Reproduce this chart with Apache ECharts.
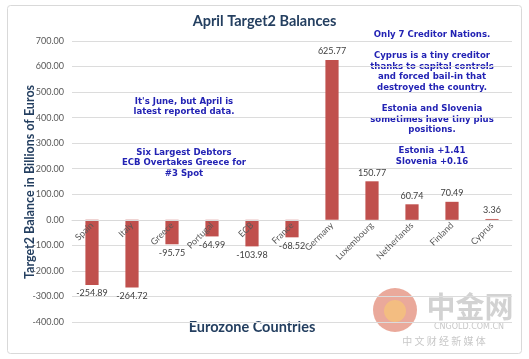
<!DOCTYPE html>
<html><head><meta charset="utf-8">
<script src="https://cdn.jsdelivr.net/npm/echarts@6/dist/echarts.min.js"></script>
<style>html,body{margin:0;padding:0;background:#fff}#c{width:529px;height:359px}</style>
</head><body><div id="c"></div>
<script>
const categories = ['Spain','Italy','Greece','Portugal','ECB','France','Germany','Luxembourg','Netherlands','Finland','Cyprus'];
const balances = [-254.89,-264.72,-95.75,-64.99,-103.98,-68.52,625.77,150.77,60.74,70.49,3.36];
const leftNotes = ["It's June, but April is\nlatest reported data.", "Six Largest Debtors\nECB Overtakes Greece for\n#3 Spot"];
const rightNote = "Only 7 Creditor Nations.\n\nCyprus is a tiny creditor\nthanks to capital controls\nand forced bail-in that\ndestroyed the country.\n\nEstonia and Slovenia\nsometimes have tiny plus\npositions.\n\nEstonia +1.41\nSlovenia +0.16";

const chart = echarts.init(document.getElementById('c'), null, {renderer:'canvas'});
const noteFont = {fontFamily:'"DejaVu Sans Condensed","DejaVu Sans",sans-serif', fontWeight:'bold', fontSize:9.5, fill:'#2323B4', lineHeight:10.6, align:'center'};
const uiFont = 'Lato, "Open Sans", sans-serif';
const gridTop = 41, gridBottom = 37, plotH = 359 - gridTop - gridBottom;
const yMin = -400, yMax = 700;
const zeroOffset = -plotH * (0 - yMin) / (yMax - yMin);
chart.setOption({
  animation:false,
  backgroundColor:'#fff',
  title:{text:'April Target2 Balances', left:'center', top:9,
    textStyle:{fontFamily:uiFont, fontWeight:'bold', fontSize:14.5, color:'#243F60'}},
  grid:{left:72, right:17, top:gridTop, bottom:gridBottom, containLabel:false, outerBoundsMode:'none'},
  xAxis:{type:'category', data:categories, position:'bottom', offset:zeroOffset, z:10,
    axisLine:{onZero:false, lineStyle:{color:'#D9D9D9'}}, axisTick:{show:false},
    axisLabel:{rotate:45, interval:0, margin:4, fontSize:9, color:'#595959', fontFamily:uiFont}},
  yAxis:{type:'value', min:yMin, max:yMax, interval:100,
    axisLine:{show:false}, axisTick:{show:false},
    axisLabel:{formatter:v=>v.toFixed(2), fontSize:9, color:'#595959', margin:8, fontFamily:uiFont},
    splitLine:{lineStyle:{color:'#DCDCDC'}}},
  series:[{type:'bar', data:balances.map(v=>({value:v, label:{position: v<0?'bottom':'top'}})),
    barWidth:'33%', itemStyle:{color:'#C0504D'}, z:1,
    label:{show:true, distance:4, formatter:p=>p.value.toFixed(2), fontSize:9, color:'#404040', fontFamily:uiFont}
  }],
  graphic:[
    {type:'rect', shape:{x:7.5,y:5.5,width:514,height:348,r:3}, style:{fill:'none', stroke:'#D9D9D9', lineWidth:1}, z:-10},
    {type:'text', x:252, y:327, style:{text:'Eurozone Countries', fontFamily:uiFont, fontWeight:'bold', fontSize:14.5, fill:'#243F60', align:'center', verticalAlign:'middle'}},
    {type:'text', x:30, y:182, rotation:Math.PI/2, style:{text:'Target2 Balance in Billions of Euros', fontFamily:uiFont, fontWeight:'bold', fontSize:12.5, fill:'#243F60', align:'center', verticalAlign:'middle'}},
    {type:'text', x:184, y:96, style:Object.assign({text:leftNotes[0]}, noteFont)},
    {type:'text', x:184, y:147, style:Object.assign({text:leftNotes[1]}, noteFont)},
    {type:'text', x:432, y:29, style:Object.assign({text:rightNote}, noteFont)},
    {type:'circle', shape:{cx:395, cy:310, r:22}, style:{fill:'#E38C7A', opacity:0.75}, z:-5},
    {type:'circle', shape:{cx:395, cy:311, r:11}, style:{fill:'#F5C27A', opacity:0.8}, z:-5},
    {type:'text', x:470, y:307, style:{text:'中金网', fontFamily:'"Noto Sans CJK SC"', fontWeight:'bold', fontSize:29, fill:'#D2D2D2', align:'center', verticalAlign:'middle'}, z:-5},
    {type:'text', x:469, y:327, style:{text:'CNGOLD.COM.CN', fontFamily:'"DejaVu Sans"', fontSize:8, fill:'#C8C8C8', align:'center', verticalAlign:'middle'}, z:-5},
    {type:'text', x:444, y:341, style:{text:'中 文 财 经 新 媒 体', fontFamily:'"Noto Sans CJK SC"', fontSize:10, fill:'#C8C8C8', align:'center', verticalAlign:'middle'}, z:-5}
  ]
});
</script></body></html>
